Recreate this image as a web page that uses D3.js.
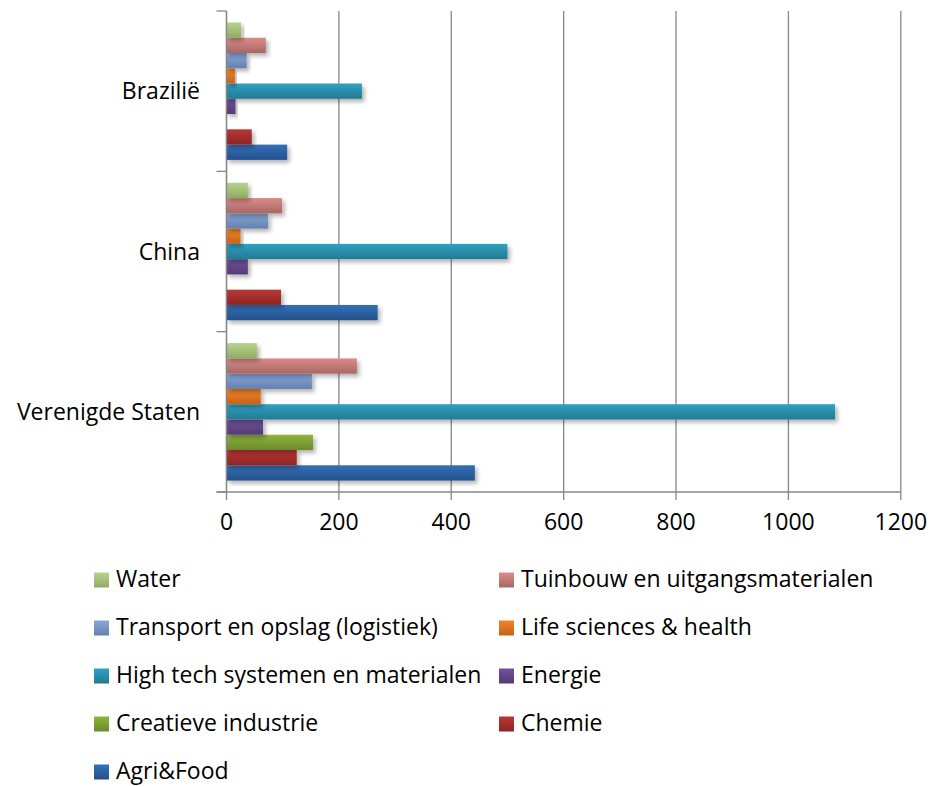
<!DOCTYPE html>
<html>
<head>
<meta charset="utf-8">
<script src="https://cdn.jsdelivr.net/npm/d3@7"></script>
<style>
  html, body { margin: 0; padding: 0; background: #fff; }
  svg { display: block; font-family: "Open Sans", "Noto Sans", sans-serif; }
</style>
</head>
<body>
<svg id="chart" width="932" height="787"></svg>
<script>
// Regions, listed bottom to top
const categories = ["Verenigde Staten", "China", "Brazilië"];

// Sectors, listed in series order (first one drawn lowest within a group)
const seriesNames = [
  "Agri&Food",
  "Chemie",
  "Creatieve industrie",
  "Energie",
  "High tech systemen en materialen",
  "Life sciences & health",
  "Transport en opslag (logistiek)",
  "Tuinbouw en uitgangsmaterialen",
  "Water"
];

// Values per sector, in the order of `categories`
const agriFood   = [442, 269, 108];
const chemie     = [125, 97, 45];
const creatieve  = [154, 0, 0];
const energie    = [65, 38, 16];
const highTech   = [1083, 500, 241];
const lifeSci    = [61, 25, 15];
const transport  = [152, 74, 36];
const tuinbouw   = [232, 99, 70];
const water      = [54, 38, 26];

const seriesValues = [agriFood, chemie, creatieve, energie, highTech, lifeSci, transport, tuinbouw, water];

const xTicks = [0, 200, 400, 600, 800, 1000, 1200];

// Gradient colours (top, bottom) per sector
const colorTop    = ["#3470b8", "#bb3633", "#8fb43e", "#71509c", "#30a1c1", "#f28427", "#8aa7d9", "#db8c89", "#b6d28e"];
const colorBottom = ["#24508b", "#8d2624", "#6b8a2c", "#543b77", "#227a92", "#c6631a", "#6580b0", "#a96764", "#8fab63"];

// Legend order (two columns, row by row)
const legendOrder = [
  "Water", "Tuinbouw en uitgangsmaterialen",
  "Transport en opslag (logistiek)", "Life sciences & health",
  "High tech systemen en materialen", "Energie",
  "Creatieve industrie", "Chemie",
  "Agri&Food"
];

const fontSize = 23;

const svg = d3.select("#chart");
const defs = svg.append("defs");

seriesNames.forEach((name, i) => {
  const g = defs.append("linearGradient")
    .attr("id", "grad" + i)
    .attr("x1", 0).attr("y1", 0).attr("x2", 0).attr("y2", 1);
  g.append("stop").attr("offset", "0%").attr("stop-color", colorTop[i]);
  g.append("stop").attr("offset", "100%").attr("stop-color", colorBottom[i]);
});

const shadow = defs.append("filter").attr("id", "shadow")
  .attr("x", "-10%").attr("y", "-30%").attr("width", "130%").attr("height", "190%");
shadow.append("feDropShadow")
  .attr("dx", 2.5).attr("dy", 3).attr("stdDeviation", 2)
  .attr("flood-color", "#000").attr("flood-opacity", 0.3);

const plot = { left: 226.5, right: 900.8, top: 11, bottom: 492 };

const x = d3.scaleLinear().domain([0, 1200]).range([plot.left, plot.right]);

const y0 = d3.scaleBand()
  .domain(categories.slice().reverse())
  .range([plot.top, plot.bottom])
  .padding(0);

const bw = y0.bandwidth();
const edge = bw * 0.75 / 10.5; // half of the 150% gap on each side
const y1 = d3.scaleBand()
  .domain(seriesNames.slice().reverse())
  .range([edge, bw - edge])
  .padding(0);

const gridColor = "#878787";

// Vertical gridlines with tick marks below the axis
svg.append("g")
  .selectAll("line")
  .data(xTicks)
  .join("line")
  .attr("x1", d => x(d)).attr("x2", d => x(d))
  .attr("y1", plot.top).attr("y2", plot.bottom + 8)
  .attr("stroke", gridColor).attr("stroke-width", 1.3);

// Bars
const groups = svg.append("g")
  .selectAll("g")
  .data(categories)
  .join("g")
  .attr("transform", d => `translate(0,${y0(d)})`);

groups.each(function (cat, ci) {
  d3.select(this).selectAll("rect")
    .data(seriesNames.map((name, si) => ({ name, si, value: seriesValues[si][ci] })))
    .join("rect")
    .attr("x", x(0))
    .attr("y", d => y1(d.name))
    .attr("width", d => x(d.value) - x(0))
    .attr("height", y1.bandwidth())
    .attr("fill", d => `url(#grad${d.si})`)
    .attr("filter", d => d.value > 0 ? "url(#shadow)" : null);
});

// Category axis
const yAxis = svg.append("g");
yAxis.append("line")
  .attr("x1", x(0)).attr("x2", x(0))
  .attr("y1", plot.top).attr("y2", plot.bottom)
  .attr("stroke", gridColor).attr("stroke-width", 1.3);
const yTickPos = [plot.top].concat(categories.slice().reverse().map(c => y0(c) + bw));
yAxis.selectAll(".ytick")
  .data(yTickPos)
  .join("line")
  .attr("class", "ytick")
  .attr("x1", x(0) - 10).attr("x2", x(0))
  .attr("y1", d => d).attr("y2", d => d)
  .attr("stroke", gridColor).attr("stroke-width", 1.3);
yAxis.selectAll("text")
  .data(categories)
  .join("text")
  .attr("x", 200)
  .attr("y", d => y0(d) + bw / 2)
  .attr("dy", "0.35em")
  .attr("text-anchor", "end")
  .attr("font-size", fontSize)
  .attr("fill", "#000")
  .text(d => d);

// Value axis line and labels
svg.append("line")
  .attr("x1", x(0) - 10).attr("x2", plot.right)
  .attr("y1", plot.bottom).attr("y2", plot.bottom)
  .attr("stroke", gridColor).attr("stroke-width", 1.3);

svg.append("g")
  .selectAll("text")
  .data(xTicks)
  .join("text")
  .attr("x", d => x(d))
  .attr("y", 522)
  .attr("dy", "0.35em")
  .attr("text-anchor", "middle")
  .attr("font-size", fontSize)
  .attr("fill", "#000")
  .text(d => d);

// Legend
const legendX = [94, 499];
const legendY0 = 580;
const legendStep = 48;
const legend = svg.append("g");
legendOrder.forEach((name, k) => {
  const si = seriesNames.indexOf(name);
  const col = k % 2, row = Math.floor(k / 2);
  const gx = legendX[col], gy = legendY0 + row * legendStep;
  legend.append("rect")
    .attr("x", gx).attr("y", gy - 7.5)
    .attr("width", 15).attr("height", 15)
    .attr("fill", `url(#grad${si})`);
  legend.append("text")
    .attr("x", gx + 22).attr("y", gy)
    .attr("dy", "0.32em")
    .attr("font-size", fontSize)
    .attr("fill", "#000")
    .text(name);
});
</script>
</body>
</html>
